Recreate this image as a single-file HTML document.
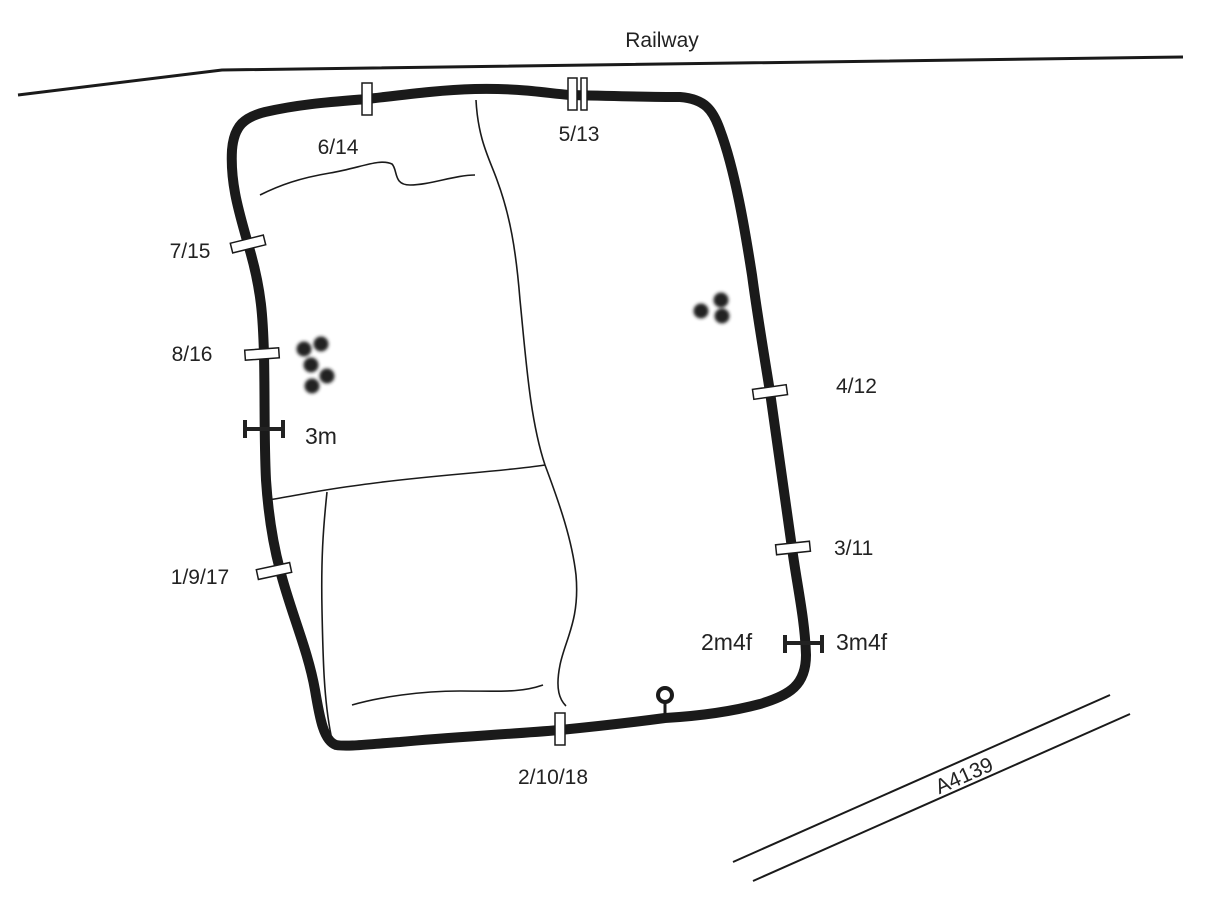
<!DOCTYPE html>
<html><head><meta charset="utf-8"><style>
html,body{margin:0;padding:0;background:#fff;}
svg{display:block;}
text{font-family:"Liberation Sans",sans-serif;fill:#222;}
</style></head><body>
<svg width="1208" height="907" viewBox="0 0 1208 907" xmlns="http://www.w3.org/2000/svg">
<defs><filter id="b" x="-50%" y="-50%" width="200%" height="200%"><feGaussianBlur stdDeviation="1.6"/></filter></defs>
<polyline points="18,95 222,70 1183,57" fill="none" stroke="#1a1a1a" stroke-width="3"/>
<text x="662" y="47" font-size="21" text-anchor="middle">Railway</text>
<line x1="733" y1="862" x2="1110" y2="695" stroke="#1a1a1a" stroke-width="2"/>
<line x1="753" y1="881" x2="1130" y2="714" stroke="#1a1a1a" stroke-width="2"/>
<text x="967" y="782" font-size="21" text-anchor="middle" transform="rotate(-24 967 782)">A4139</text>
<g fill="none" stroke="#1a1a1a" stroke-width="1.6">
<path d="M476,100 C478,140 490,160 497,180 C510,215 516,250 520,300 C526,360 530,420 545,465 C560,505 572,540 576,575 C580,620 565,640 560,665 C555,690 560,700 566,706"/>
<path d="M268,500 C300,495 320,490 360,485 C430,475 500,472 545,465"/>
<path d="M327,492 C323,530 321,560 322,610 C323,660 324,700 331,735"/>
<path d="M260,195 C280,185 300,178 330,173 C360,168 380,158 392,164 C398,170 393,185 410,185 C430,185 455,175 475,175"/>
<path d="M352,705 C380,697 420,691 460,691 C500,691 520,693 543,685"/>
</g>
<path d="M265,112 C300,104 330,102 367,99 C410,94 440,90 475,89 C520,88 545,93 570,95 C610,96 650,97 680,97 C705,99 713,110 720,130 C735,170 745,230 752,275 C758,320 765,360 770,392 C778,450 785,500 792,548 C797,585 805,620 806,655 C806,685 790,695 760,704 C730,712 700,716 665,718 C620,724 590,727 560,730 C500,735 450,737 400,742 C370,744 348,747 336,745 C324,741 320,720 315,690 C308,650 290,610 280,570 C272,540 268,510 266,480 C264,440 265,400 264,355 C263,320 262,290 248,244 C240,215 230,185 232,150 C234,125 245,117 265,112 Z" fill="none" stroke="#1a1a1a" stroke-width="10" stroke-linejoin="round"/>
<g fill="#fff" stroke="#1a1a1a" stroke-width="1.5">
<rect x="362" y="83" width="10" height="32"/>
<rect x="568" y="78" width="9" height="32"/>
<rect x="581" y="78" width="6" height="32"/>
<rect x="231" y="239" width="34" height="10" transform="rotate(-14 248 244)"/>
<rect x="245" y="349" width="34" height="10" transform="rotate(-4 262 354)"/>
<rect x="257" y="566" width="34" height="10" transform="rotate(-12 274 571)"/>
<rect x="753" y="387" width="34" height="10" transform="rotate(-8 770 392)"/>
<rect x="776" y="543" width="34" height="10" transform="rotate(-6 793 548)"/>
<rect x="555" y="713" width="10" height="32"/>
</g>
<g stroke="#222" stroke-width="4" fill="none">
<line x1="245" y1="429" x2="283" y2="429"/><line x1="245" y1="420" x2="245" y2="438"/><line x1="283" y1="420" x2="283" y2="438"/>
<line x1="785" y1="643" x2="822" y2="643"/><line x1="785" y1="635" x2="785" y2="653"/><line x1="822" y1="635" x2="822" y2="653"/>
</g>
<line x1="665" y1="703" x2="665" y2="718" stroke="#1a1a1a" stroke-width="3"/>
<circle cx="665" cy="695" r="7" fill="#fff" stroke="#1a1a1a" stroke-width="4"/>
<g fill="#222" filter="url(#b)">
<circle cx="304" cy="349" r="7.5"/><circle cx="321" cy="344" r="7.5"/><circle cx="311" cy="365" r="7.5"/><circle cx="327" cy="376" r="7.5"/><circle cx="312" cy="386" r="7.5"/>
<circle cx="701" cy="311" r="7.5"/><circle cx="721" cy="300" r="7.5"/><circle cx="722" cy="316" r="7.5"/>
</g>
<g font-size="21">
<text x="338" y="154" text-anchor="middle">6/14</text>
<text x="579" y="141" text-anchor="middle">5/13</text>
<text x="190" y="258" text-anchor="middle">7/15</text>
<text x="192" y="361" text-anchor="middle">8/16</text>
<text x="200" y="584" text-anchor="middle">1/9/17</text>
<text x="836" y="393">4/12</text>
<text x="834" y="555">3/11</text>
<text x="553" y="784" text-anchor="middle">2/10/18</text>
</g>
<g font-size="23" fill="#000">
<text x="305" y="444" fill="#000">3m</text>
<text x="701" y="650" fill="#000">2m4f</text>
<text x="836" y="650" fill="#000">3m4f</text>
</g>
</svg>
</body></html>
